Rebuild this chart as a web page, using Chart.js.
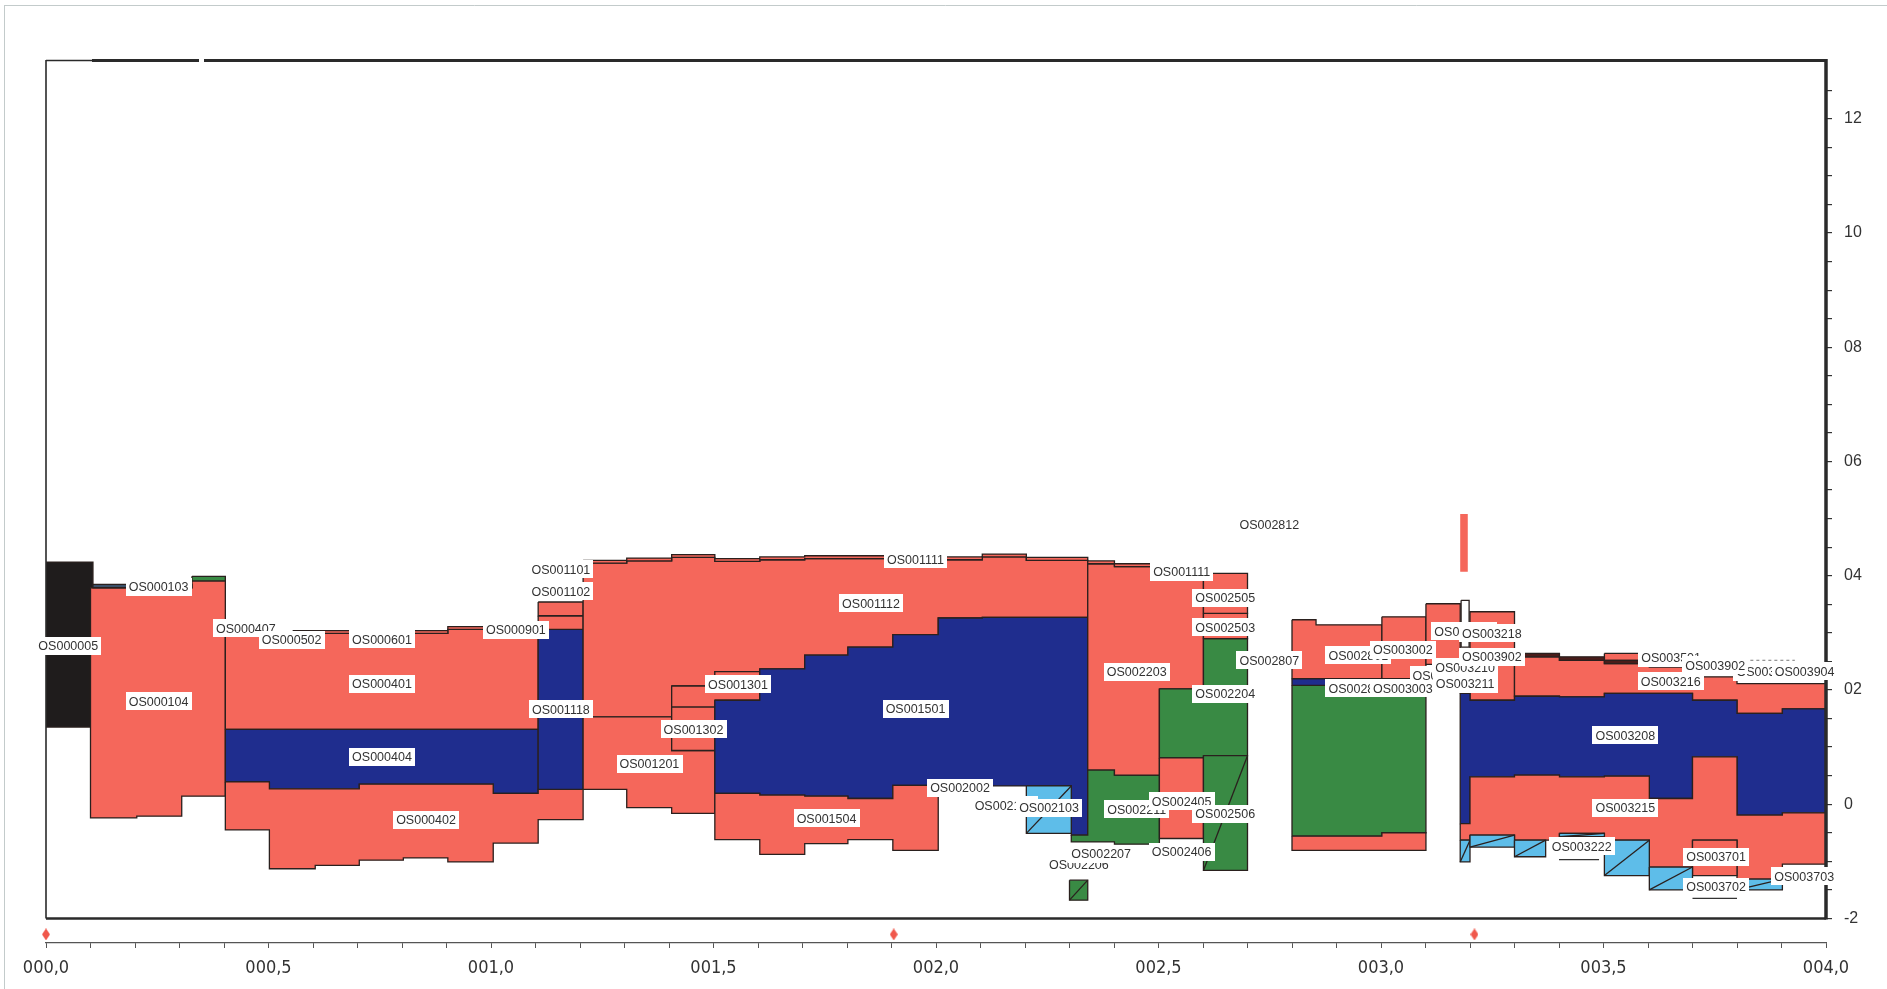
<!DOCTYPE html>
<html>
<head>
<meta charset="utf-8">
<script src="https://cdn.jsdelivr.net/npm/chart.js@4/dist/chart.umd.min.js"></script>
<style>
html,body{margin:0;padding:0;background:#fff;}
#wrap{width:1887px;height:989px;position:relative;}
</style>
</head>
<body>
<div id="wrap"><canvas id="c"></canvas></div>
<script>
// ---------- axis ticks ----------
const xTickValues = [0,0.1,0.2,0.3,0.4,0.5,0.6,0.7,0.8,0.9,1,1.1,1.2,1.3,1.4,1.5,1.6,1.7,1.8,1.9,2,2.1,2.2,2.3,2.4,2.5,2.6,2.7,2.8,2.9,3,3.1,3.2,3.3,3.4,3.5,3.6,3.7,3.8,3.9,4];
const xMajorValues = [0,0.5,1,1.5,2,2.5,3,3.5,4];
const xMajorLabels = ['000,0','000,5','001,0','001,5','002,0','002,5','003,0','003,5','004,0'];
const yTickValues = [-2,-1.5,-1,-0.5,0,0.5,1,1.5,2,2.5,3,3.5,4,4.5,5,5.5,6,6.5,7,7.5,8,8.5,9,9.5,10,10.5,11,11.5,12,12.5];
const yMajorValues = [-2,0,2,4,6,8,10,12];
const yMajorLabels = ['-2','0','02','04','06','08','10','12'];

// ---------- layers: rows of [xStart, xEnd, top, bottom] ----------
const OS000005 = [[0.000,0.1055,4.24,1.35]];
const OS000104 = [[0.100,0.204,3.79,-0.24],[0.204,0.305,3.79,-0.21],[0.305,0.328,3.79,0.14],[0.328,0.403,3.91,0.14]];
const OS000103 = [[0.1055,0.328,3.85,3.79]];
const OS000107 = [[0.328,0.403,3.99,3.91]];
const OS000401 = [[0.403,0.903,2.99,1.31],[0.903,1.106,3.06,1.31]];
const OS000502 = [[0.555,0.903,3.04,2.99],[0.903,1.106,3.11,3.06]];
const OS000404 = [[0.403,0.502,1.31,0.39],[0.502,0.704,1.31,0.27],[0.704,1.005,1.31,0.35],[1.005,1.106,1.31,0.19]];
const OS000402 = [[0.403,0.502,0.39,-0.45],[0.502,0.605,0.27,-1.13],[0.605,0.704,0.27,-1.07],[0.704,0.803,0.35,-0.98],[0.803,0.903,0.35,-0.94],[0.903,1.005,0.35,-1.01],[1.005,1.106,0.19,-0.68],[1.106,1.207,0.26,-0.27]];
const OS001118 = [[1.106,1.207,3.06,0.26]];
const OS001102 = [[1.106,1.207,3.30,3.06]];
const OS001101 = [[1.106,1.207,3.54,3.30]];
const OS001112 = [[1.207,1.305,4.22,1.53],[1.305,1.406,4.26,1.53],[1.406,1.503,4.32,2.07],[1.503,1.604,4.25,2.32],[1.604,1.705,4.28,2.37],[1.705,1.802,4.30,2.61],[1.802,1.903,4.30,2.75],[1.903,2.005,4.30,2.97],[2.005,2.104,4.28,3.26],[2.104,2.203,4.33,3.27],[2.203,2.341,4.27,3.27]];
const OS001201 = [[1.207,1.305,1.53,0.26],[1.305,1.406,1.53,-0.06],[1.406,1.503,0.94,-0.16]];
const OS001301 = [[1.406,1.503,2.07,1.70],[1.503,1.604,2.32,1.82]];
const OS001302 = [[1.406,1.503,1.70,0.94]];
const OS001501 = [[1.503,1.604,1.82,0.19],[1.604,1.705,2.37,0.16],[1.705,1.802,2.61,0.14],[1.802,1.903,2.75,0.10],[1.903,2.005,2.97,0.33],[2.005,2.104,3.26,0.33],[2.104,2.304,3.27,0.32],[2.304,2.341,3.27,-0.54]];
const OS001504 = [[1.503,1.604,0.19,-0.62],[1.604,1.705,0.16,-0.88],[1.705,1.802,0.14,-0.69],[1.802,1.903,0.10,-0.62],[1.903,2.005,0.33,-0.81]];
const OS002103 = [[2.203,2.304,0.32,-0.51]];
const OS002207 = [[2.304,2.341,-0.54,-0.66],[2.341,2.401,0.60,-0.66],[2.401,2.502,0.51,-0.70]];
const OS002206 = [[2.300,2.341,-1.33,-1.68]];
const OS002203 = [[2.341,2.401,4.21,0.60],[2.401,2.502,4.16,0.51],[2.502,2.601,4.16,2.02]];
const OS001111 = [[1.207,1.305,4.27,4.22],[1.305,1.406,4.31,4.26],[1.406,1.503,4.37,4.32],[1.503,1.604,4.30,4.25],[1.604,1.705,4.33,4.28],[1.705,2.005,4.35,4.30],[2.005,2.104,4.33,4.28],[2.104,2.203,4.38,4.33],[2.203,2.341,4.32,4.27],[2.341,2.401,4.26,4.21],[2.401,2.601,4.21,4.16]];
const OS002204 = [[2.502,2.601,2.02,0.81],[2.601,2.700,2.90,0.85]];
const OS002405 = [[2.502,2.601,0.81,-0.60]];
const OS002506 = [[2.601,2.700,0.85,-1.16]];
const OS002503 = [[2.601,2.700,3.34,2.90]];
const OS002505 = [[2.601,2.700,4.04,3.34]];
const OS002812 = [[3.178,3.195,5.08,4.07]];
const OS002862 = [[2.800,3.002,2.08,-0.56],[3.002,3.101,2.08,-0.50]];
const OS002841 = [[2.800,3.002,2.20,2.08]];
const OS002801 = [[2.800,2.854,3.23,2.20],[2.854,3.002,3.14,2.20]];
const OS003002 = [[3.002,3.101,3.28,2.20]];
const OS003101 = [[3.101,3.178,3.51,2.45]];
const OS002844 = [[2.800,3.002,-0.56,-0.81],[3.002,3.101,-0.50,-0.81]];
const OS003201 = [[3.180,3.198,3.57,2.75]];
const OS003218 = [[3.178,3.200,2.30,1.94],[3.200,3.300,3.37,1.82]];
const OS003216 = [[3.300,3.401,2.58,1.89],[3.401,3.502,2.52,1.88],[3.502,3.603,2.46,1.94],[3.603,3.700,2.40,1.94],[3.700,3.800,2.23,1.82],[3.800,3.902,2.11,1.59],[3.902,4.000,2.11,1.67]];
const OS003501 = [[3.300,3.401,2.64,2.58],[3.401,3.502,2.58,2.52],[3.502,3.603,2.52,2.46]];
const OS003502 = [[3.502,3.603,2.64,2.52]];
const OS003208 = [[3.178,3.200,1.94,-0.34],[3.200,3.300,1.82,0.48],[3.300,3.401,1.89,0.51],[3.401,3.502,1.88,0.48],[3.502,3.603,1.94,0.49],[3.603,3.700,1.94,0.10],[3.700,3.800,1.82,0.83],[3.800,3.902,1.59,-0.19],[3.902,4.000,1.67,-0.15]];
const OS003215 = [[3.178,3.200,-0.34,-0.63],[3.200,3.300,0.48,-0.54],[3.300,3.401,0.51,-0.63],[3.401,3.502,0.48,-0.51],[3.502,3.603,0.49,-0.63],[3.603,3.700,0.10,-1.10],[3.700,3.800,0.83,-0.63],[3.800,3.902,-0.19,-1.31],[3.902,4.000,-0.15,-1.05]];
const OS003701 = [[3.700,3.800,-0.63,-1.25]];
const OS003220 = [[3.178,3.200,-0.63,-1.01]];
const OS003221 = [[3.200,3.300,-0.54,-0.75]];
const OS003222 = [[3.300,3.370,-0.63,-0.92]];
const OS003223 = [[3.401,3.502,-0.51,-0.57]];
const OS003224 = [[3.502,3.603,-0.63,-1.25]];
const OS003702 = [[3.603,3.700,-1.10,-1.50]];
const OS003703 = [[3.800,3.902,-1.31,-1.50]];

// extra plain lines: [x0, x1, y]
const dashedLines = [[3.83,3.93,2.52]];
const plainLines = [[3.40,3.49,-0.97],[3.70,3.80,-1.65]];

// route markers along the bottom
const markerX = [0.000,1.905,3.210];
const markerY = [-2.28,-2.28,-2.28];

// ---------- labels ----------
const labelTexts = ['OS000005','OS000103','OS000104','OS000407','OS000502','OS000601','OS000401','OS000404','OS000402','OS000901','OS001101','OS001102','OS001118','OS001201','OS001302','OS001301','OS001112','OS001111','OS001501','OS001504','OS002002','OS002101','OS002103','OS002206','OS002207','OS002203','OS002211','OS002405','OS002406','OS001111','OS002505','OS002503','OS002204','OS002506','OS002807','OS002812','OS002801','OS003002','OS002841','OS003003','OS003201','OS003101','OS003218','OS003210','OS003902','OS003211','OS003208','OS003215','OS003222','OS003501','OS003216','OS003803','OS003902','OS003904','OS003701','OS003702','OS003703'];
const labelX = [0.050,0.253,0.253,0.449,0.552,0.755,0.755,0.755,0.854,1.056,1.157,1.157,1.157,1.356,1.455,1.555,1.854,1.954,1.954,1.754,2.054,2.154,2.254,2.321,2.371,2.451,2.451,2.552,2.552,2.552,2.650,2.650,2.650,2.650,2.749,2.749,2.949,3.049,2.949,3.049,3.138,3.187,3.249,3.189,3.249,3.189,3.549,3.549,3.451,3.652,3.651,3.866,3.751,3.952,3.753,3.753,3.951];
const labelY = [2.77,3.81,1.80,3.08,2.88,2.89,2.11,0.83,-0.27,3.05,4.11,3.73,1.66,0.71,1.31,2.10,3.52,4.29,1.67,-0.25,0.29,-0.02,-0.06,-1.06,-0.87,2.32,-0.09,0.05,-0.83,4.07,3.61,3.10,1.93,-0.17,2.52,4.90,2.61,2.70,2.03,2.03,2.26,3.03,2.99,2.40,2.58,2.11,1.21,-0.06,-0.74,2.56,2.15,2.32,2.43,2.33,-0.92,-1.45,-1.26];

// ---------- styles ----------
const RED='#f5675b', BLUE='#1f2d8e', GREEN='#398a44', LBLUE='#5ebde9', BLACK='#1f1c1c', SLATE='#3b5068', DARK='#4a1d1a', WHITE='#ffffff', EDGE='#2a201e';

// draw order: first = bottom
const layerTable = [
  {rows:OS000005,color:BLACK},
  {rows:OS000104,color:RED},
  {rows:OS000103,color:SLATE},
  {rows:OS000107,color:GREEN},
  {rows:OS000401,color:RED},
  {rows:OS000502,color:RED},
  {rows:OS000404,color:BLUE},
  {rows:OS000402,color:RED},
  {rows:OS001118,color:BLUE},
  {rows:OS001102,color:RED},
  {rows:OS001101,color:RED},
  {rows:OS001112,color:RED},
  {rows:OS001201,color:RED},
  {rows:OS001301,color:RED},
  {rows:OS001302,color:RED},
  {rows:OS001501,color:BLUE},
  {rows:OS001504,color:RED},
  {rows:OS002103,color:LBLUE,hatch:true},
  {rows:OS002207,color:GREEN},
  {rows:OS002206,color:GREEN,hatch:true},
  {rows:OS002203,color:RED},
  {rows:OS001111,color:RED},
  {rows:OS002204,color:GREEN},
  {rows:OS002405,color:RED},
  {rows:OS002506,color:GREEN,hatch:true},
  {rows:OS002503,color:RED},
  {rows:OS002505,color:RED},
  {rows:OS002812,color:RED,noEdge:true},
  {rows:OS002862,color:GREEN},
  {rows:OS002841,color:BLUE},
  {rows:OS002801,color:RED},
  {rows:OS003002,color:RED},
  {rows:OS003101,color:RED},
  {rows:OS002844,color:RED},
  {rows:OS003201,color:WHITE},
  {rows:OS003218,color:RED},
  {rows:OS003216,color:RED},
  {rows:OS003502,color:RED},
  {rows:OS003501,color:DARK},
  {rows:OS003208,color:BLUE},
  {rows:OS003215,color:RED},
  {rows:OS003701,color:RED},
  {rows:OS003220,color:LBLUE,hatch:true},
  {rows:OS003221,color:LBLUE,hatch:true},
  {rows:OS003222,color:LBLUE,hatch:true},
  {rows:OS003223,color:LBLUE,hatch:true},
  {rows:OS003224,color:LBLUE,hatch:true},
  {rows:OS003702,color:LBLUE,hatch:true},
  {rows:OS003703,color:LBLUE,hatch:true}
];

function polygon(rows){
  const pts=[];
  rows.forEach(r=>{pts.push({x:r[0],y:r[2]});pts.push({x:r[1],y:r[2]});});
  for(let i=rows.length-1;i>=0;i--){const r=rows[i];pts.push({x:r[1],y:r[3]});pts.push({x:r[0],y:r[3]});}
  pts.push({x:rows[0][0],y:rows[0][2]});
  return pts;
}

const ds=[];
layerTable.forEach(L=>{
  ds.push({data:polygon(L.rows),showLine:true,fill:'shape',backgroundColor:L.color,
    borderColor:L.noEdge?L.color:EDGE,borderWidth:L.noEdge?0:1.3,pointRadius:0,pointHoverRadius:0,tension:0});
  if(L.hatch){
    L.rows.forEach(r=>{
      ds.push({data:[{x:r[0],y:r[3]},{x:r[1],y:r[2]}],showLine:true,fill:false,borderColor:EDGE,borderWidth:1.3,pointRadius:0,pointHoverRadius:0});
    });
  }
});
dashedLines.forEach(l=>ds.push({data:[{x:l[0],y:l[2]},{x:l[1],y:l[2]}],showLine:true,fill:false,borderColor:'#777',borderWidth:1,borderDash:[3,3],pointRadius:0}));
plainLines.forEach(l=>ds.push({data:[{x:l[0],y:l[2]},{x:l[1],y:l[2]}],showLine:true,fill:false,borderColor:'#333',borderWidth:1.3,pointRadius:0}));

// diamond marker
const dia=document.createElement('canvas');dia.width=8;dia.height=12;
(function(){const c=dia.getContext('2d');c.fillStyle='#f0584c';c.beginPath();c.moveTo(4,0);c.lineTo(8,6);c.lineTo(4,12);c.lineTo(0,6);c.closePath();c.fill();})();
ds.push({data:markerX.map((x,i)=>({x:x,y:markerY[i]})),showLine:false,pointStyle:dia,pointRadius:5,clip:false});

const datasets = ds.reverse();

const framePlugin={
  id:'frame',
  afterDatasetsDraw(chart){
    const {ctx,chartArea:a,scales:{y}}=chart;
    const yb=y.getPixelForValue(-2);
    ctx.save();
    ctx.strokeStyle='#c3cbcb';ctx.lineWidth=1;
    ctx.beginPath();ctx.moveTo(4.5,5);ctx.lineTo(4.5,989);ctx.moveTo(4,5.5);ctx.lineTo(1887,5.5);ctx.stroke();
    ctx.strokeStyle='#2a2a2a';
    ctx.lineWidth=1.6;ctx.beginPath();ctx.moveTo(a.left,a.top);ctx.lineTo(a.left,yb);ctx.stroke();
    ctx.lineWidth=1.6;ctx.beginPath();ctx.moveTo(a.left,a.top+0.5);ctx.lineTo(92,a.top+0.5);ctx.stroke();
    ctx.lineWidth=3;ctx.beginPath();ctx.moveTo(92,a.top+0.5);ctx.lineTo(199,a.top+0.5);ctx.moveTo(204,a.top+0.5);ctx.lineTo(a.right,a.top+0.5);ctx.stroke();
    ctx.lineWidth=3.5;ctx.beginPath();ctx.moveTo(a.right,a.top-1);ctx.lineTo(a.right,yb+1);ctx.stroke();
    ctx.lineWidth=2.5;ctx.beginPath();ctx.moveTo(a.left,yb);ctx.lineTo(a.right,yb);ctx.stroke();
    ctx.restore();
  }
};

const labelPlugin={
  id:'boxLabels',
  afterDatasetsDraw(chart){
    const {ctx,scales:{x,y}}=chart;
    ctx.save();
    ctx.font='12.5px "Liberation Sans", Arial, sans-serif';
    ctx.textAlign='center';ctx.textBaseline='middle';
    labelTexts.forEach((t,i)=>{
      const px=x.getPixelForValue(labelX[i]),py=y.getPixelForValue(labelY[i]);
      const w=ctx.measureText(t).width+6,h=18;
      ctx.fillStyle='#ffffff';ctx.fillRect(Math.round(px-w/2),Math.round(py-h/2),Math.round(w),h);
      ctx.fillStyle='#333333';ctx.fillText(t,px,py+1);
    });
    ctx.restore();
  }
};

new Chart(document.getElementById('c'),{
  type:'scatter',
  data:{datasets:datasets},
  options:{
    responsive:true,maintainAspectRatio:false,animation:false,events:[],
    devicePixelRatio:1,
    layout:{padding:{left:46,top:60,right:0,bottom:0}},
    plugins:{legend:{display:false},tooltip:{enabled:false}},
    scales:{
      x:{type:'linear',position:'bottom',min:0,max:4,
        afterBuildTicks(s){s.ticks=xTickValues.map(v=>({value:v}));},
        afterFit(s){s.height=46;},
        ticks:{autoSkip:false,maxRotation:0,minRotation:0,padding:10,color:'#333',
          font:{family:'"Liberation Sans Narrow","DejaVu Sans Condensed","Liberation Sans",Arial,sans-serif',size:18},
          callback(v){const i=xMajorValues.findIndex(m=>Math.abs(m-v)<1e-6);return i>=0?xMajorLabels[i]:'';}},
        grid:{drawOnChartArea:false,drawTicks:true,tickLength:5,color:'#555',lineWidth:1},
        border:{display:true,color:'#555',width:1.2}
      },
      y:{type:'linear',position:'right',min:-2.43,max:13.03,
        afterBuildTicks(s){s.ticks=yTickValues.map(v=>({value:v}));},
        afterFit(s){s.width=61;},
        ticks:{autoSkip:false,padding:12,color:'#333',
          font:{family:'"Liberation Sans",Arial,sans-serif',size:16},
          callback(v){const i=yMajorValues.findIndex(m=>Math.abs(m-v)<1e-6);return i>=0?yMajorLabels[i]:'';}},
        grid:{drawOnChartArea:false,drawTicks:true,tickLength:6,color:'#333',lineWidth:1.2},
        border:{display:false}
      }
    }
  },
  plugins:[framePlugin,labelPlugin]
});
</script>
</body>
</html>
